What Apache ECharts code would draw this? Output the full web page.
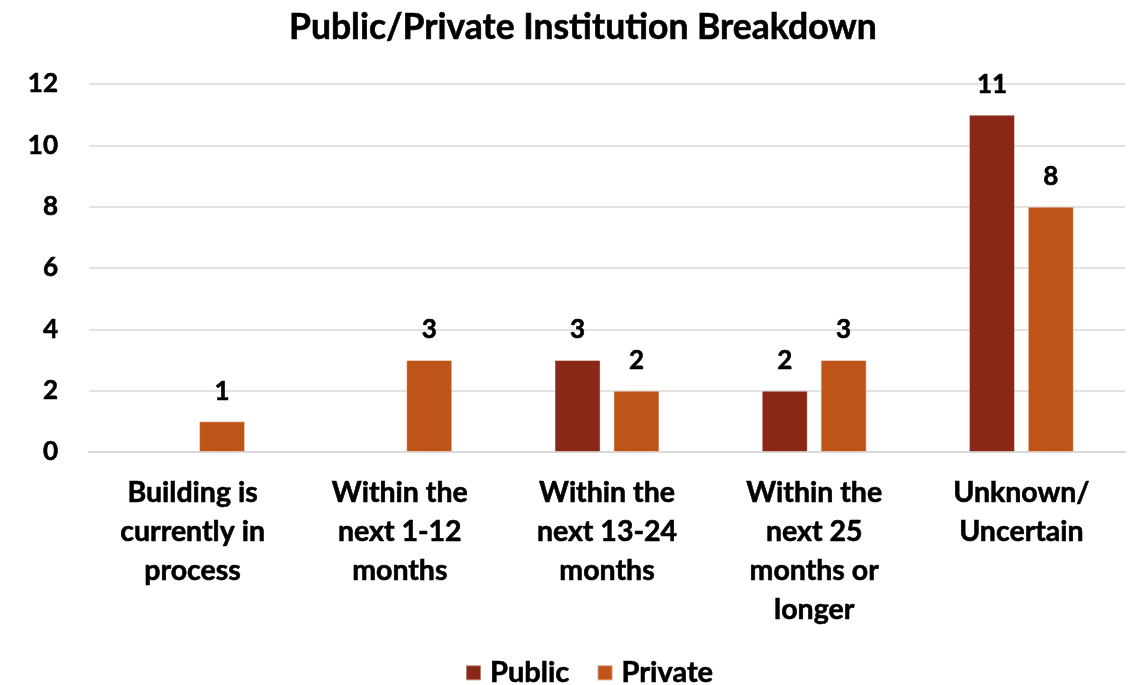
<!DOCTYPE html>
<html>
<head>
<meta charset="utf-8">
<script src="https://cdn.jsdelivr.net/npm/echarts@6/dist/echarts.min.js"></script>
<style>
html,body{margin:0;padding:0;background:#fff;}
#chart{width:1135px;height:685px;}
</style>
</head>
<body>
<div id="chart"></div>
<script>
const categories = [
  'Building is\ncurrently in\nprocess',
  'Within the\nnext 1-12\nmonths',
  'Within the\nnext 13-24\nmonths',
  'Within the\nnext 25\nmonths or\nlonger',
  'Unknown/\nUncertain'
];
const publicValues = [null, null, 3, 2, 11];
const privateValues = [1, 3, 2, 3, 8];
const seriesNames = ['Public', 'Private'];

const FONT = 'Lato';
const chart = echarts.init(document.getElementById('chart'));
const labelStyle = {show: true, position: 'top', distance: 17, color: '#000', fontFamily: FONT, fontWeight: 'bold', fontSize: 26,
  textBorderColor: '#000', textBorderWidth: 0.6};
chart.setOption({
  animation: false,
  title: {
    text: 'Public/Private Institution Breakdown',
    left: 284, top: 5,
    textStyle: {fontFamily: FONT, fontWeight: 'bold', fontSize: 35.5, color: '#000', textBorderColor: '#000', textBorderWidth: 0.6}
  },
  legend: {
    top: 653, left: 460,
    itemWidth: 15, itemHeight: 15, itemGap: 27,
    icon: 'rect',
    textStyle: {fontFamily: FONT, fontWeight: 'bold', fontSize: 29, color: '#000', padding: [0, 0, 0, 4], textBorderColor: '#000', textBorderWidth: 0.6}
  },
  grid: {left: 89, right: 10, top: 84, bottom: 233, containLabel: false},
  xAxis: {
    type: 'category', data: categories,
    axisLine: {lineStyle: {color: '#d9d9d9', width: 2}},
    axisTick: {show: false},
    axisLabel: {fontFamily: FONT, fontWeight: 'bold', fontSize: 28.5, color: '#000', lineHeight: 39, margin: 21, interval: 0,
      textBorderColor: '#000', textBorderWidth: 0.6}
  },
  yAxis: {
    type: 'value', min: 0, max: 12, interval: 2,
    axisLine: {show: false}, axisTick: {show: false},
    splitLine: {lineStyle: {color: '#d9d9d9', width: 1.5}},
    axisLabel: {fontFamily: FONT, fontWeight: 'bold', fontSize: 26, color: '#000', margin: 31,
      textBorderColor: '#000', textBorderWidth: 0.6}
  },
  series: [
    {name: seriesNames[0], type: 'bar', data: publicValues, barWidth: 46, barGap: '28%',
     itemStyle: {color: '#8A2818', borderColor: 'rgba(255,255,255,0.4)', borderWidth: 1}, label: labelStyle},
    {name: seriesNames[1], type: 'bar', data: privateValues, barWidth: 46, barGap: '28%',
     itemStyle: {color: '#BF5418', borderColor: 'rgba(255,255,255,0.4)', borderWidth: 1}, label: labelStyle}
  ]
});
</script>
</body>
</html>
